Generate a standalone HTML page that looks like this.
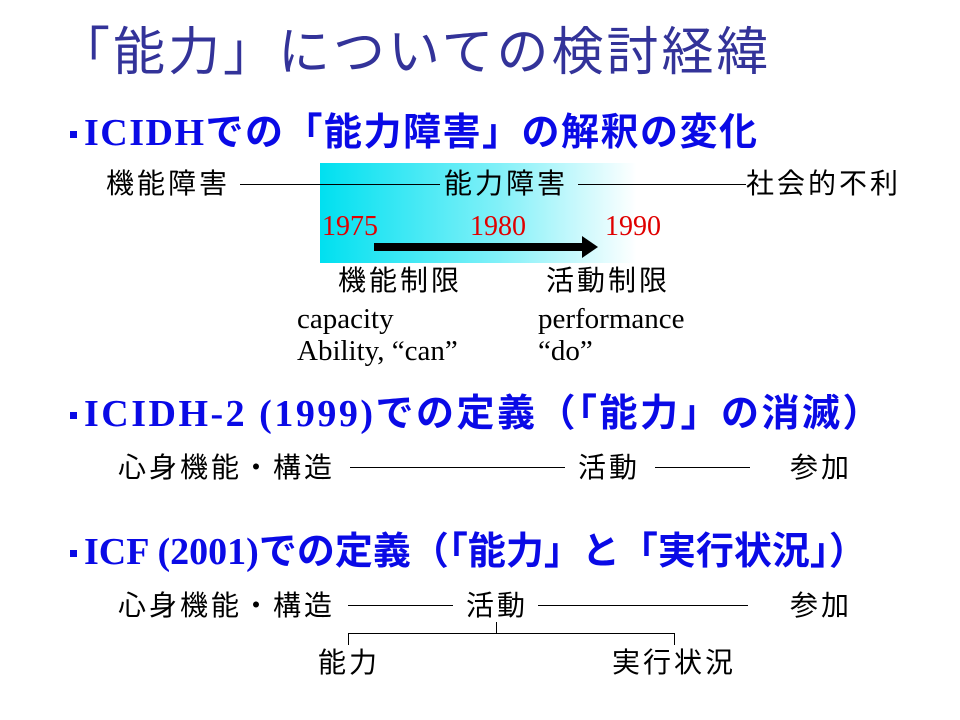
<!DOCTYPE html>
<html><head><meta charset="utf-8"><style>
body{margin:0;width:960px;height:720px;background:#fff;position:relative;overflow:hidden;font-family:"Liberation Sans","Noto Sans CJK JP",sans-serif}
.a{position:absolute;white-space:nowrap;line-height:1}
.t{color:#333399;font-size:52px;letter-spacing:3px}
.h{color:#0a0ae6;font-size:38px;font-weight:bold;font-family:"Liberation Serif","Noto Sans CJK JP",serif;letter-spacing:1.5px}
.h .j{font-family:"Liberation Sans","Noto Sans CJK JP",sans-serif}
.l{font-size:28px;color:#000;letter-spacing:3px}
.s{font-family:"Liberation Serif",serif;font-size:29px;color:#000}
.r{font-family:"Liberation Serif",serif;font-size:28px;color:#e00000}
.ln{position:absolute;height:1px;background:#000}
.v{position:absolute;width:1px;background:#000}
.b{position:absolute;width:7px;height:7px;background:#0a0ae6}
</style></head><body>
<div class="a t" style="left:58px;top:27px">「能力」についての検討経緯</div>
<div style="position:absolute;left:320px;top:163px;width:440px;height:100px;background:linear-gradient(to right,#00e0f0 0%,#7ff0f8 40%,#fff 72%)"></div>
<div class="b" style="left:70px;top:131px"></div>
<div class="a h" style="left:84px;top:114px">ICIDH<span class="j">での「能力障害」の解釈の変化</span></div>
<div class="a l" style="left:106px;top:170px">機能障害</div>
<div class="ln" style="left:240px;top:184px;width:200px"></div>
<div class="a l" style="left:444px;top:170px">能力障害</div>
<div class="ln" style="left:578px;top:184px;width:168px"></div>
<div class="a l" style="left:746px;top:170px">社会的不利</div>
<div class="a r" style="left:322px;top:213px">1975</div>
<div class="a r" style="left:470px;top:213px">1980</div>
<div class="a r" style="left:605px;top:213px">1990</div>
<div style="position:absolute;left:374px;top:243px;width:210px;height:8px;background:#000"></div>
<div style="position:absolute;left:582px;top:236px;width:0;height:0;border-top:11px solid transparent;border-bottom:11px solid transparent;border-left:16px solid #000"></div>
<div class="a l" style="left:338px;top:267px">機能制限</div>
<div class="a l" style="left:546px;top:267px">活動制限</div>
<div class="a s" style="left:297px;top:305px">capacity</div>
<div class="a s" style="left:538px;top:305px">performance</div>
<div class="a s" style="left:297px;top:337px">Ability, “can”</div>
<div class="a s" style="left:538px;top:337px">“do”</div>
<div class="b" style="left:70px;top:412px"></div>
<div class="a h" style="left:84px;top:395px;letter-spacing:2.5px">ICIDH-2 (1999)<span class="j">での定義（「能力」の消滅）</span></div>
<div class="a l" style="left:118px;top:454px">心身機能・構造</div>
<div class="ln" style="left:350px;top:467px;width:215px"></div>
<div class="a l" style="left:578px;top:454px">活動</div>
<div class="ln" style="left:655px;top:467px;width:95px"></div>
<div class="a l" style="left:790px;top:454px">参加</div>
<div class="b" style="left:70px;top:550px"></div>
<div class="a h" style="left:84px;top:533px;letter-spacing:0px">ICF (2001)<span class="j">での定義（「能力」と「実行状況」）</span></div>
<div class="a l" style="left:118px;top:592px">心身機能・構造</div>
<div class="ln" style="left:348px;top:605px;width:105px"></div>
<div class="a l" style="left:466px;top:592px">活動</div>
<div class="ln" style="left:538px;top:605px;width:210px"></div>
<div class="a l" style="left:790px;top:592px">参加</div>
<div class="v" style="left:496px;top:622px;height:11px"></div>
<div class="ln" style="left:348px;top:633px;width:326px"></div>
<div class="v" style="left:348px;top:633px;height:12px"></div>
<div class="v" style="left:674px;top:633px;height:12px"></div>
<div class="a l" style="left:318px;top:649px">能力</div>
<div class="a l" style="left:612px;top:649px">実行状況</div>
</body></html>
